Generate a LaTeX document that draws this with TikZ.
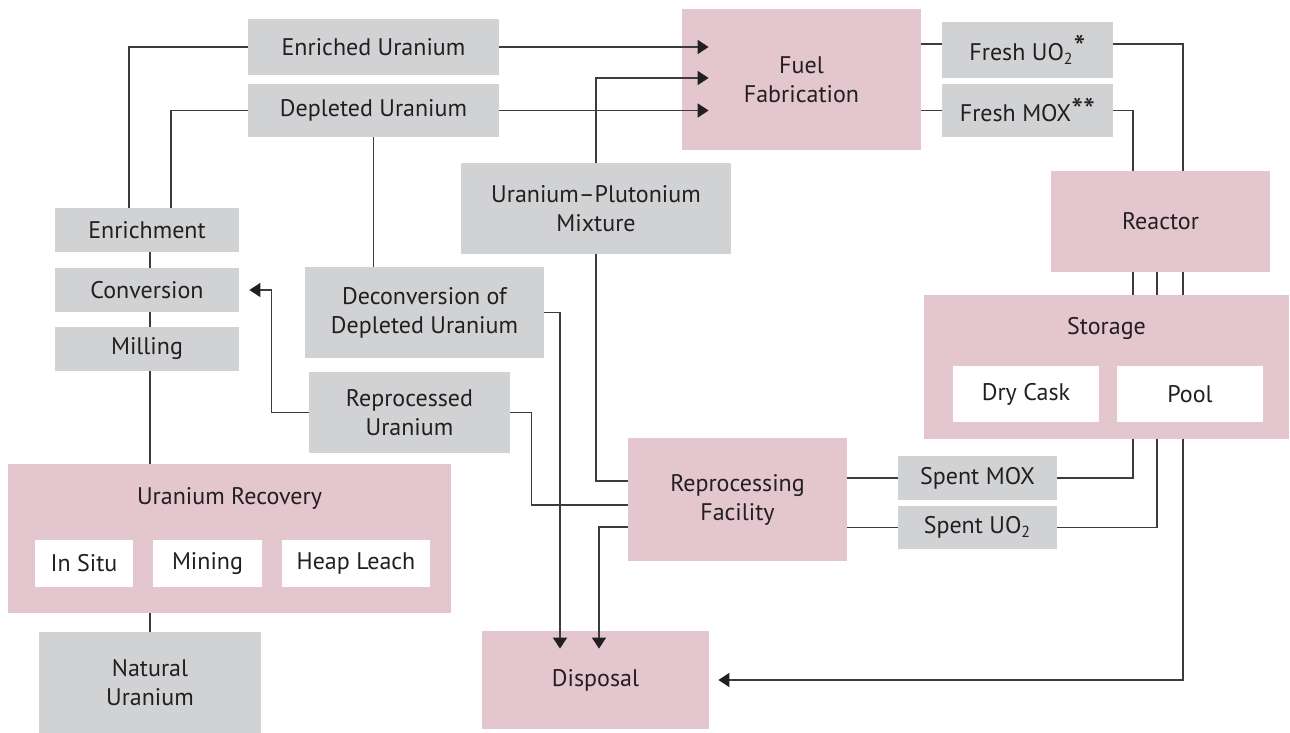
\documentclass[tikz,border=0pt]{standalone}
\usepackage{fontspec}
\setmainfont{PT Sans}
\usepackage{xcolor}
\usepackage{tikz}
\usetikzlibrary{
	arrows.meta,    % Per le punte a triangolo pieno
	calc            % Per spostare le coordinate dei collegamenti
}
\definecolor{boxpink}{RGB}{227,198,206}
\definecolor{boxgrey}{RGB}{209,210,212}
\definecolor{linegrey}{RGB}{60,60,60}
\definecolor{textdark}{RGB}{35,31,32}

% Asterisco delle note, piu' grande di quello del carattere
\newcommand{\notemark}[1]{\raisebox{#1}{\fontsize{17}{17}\selectfont*}}

\begin{document}
\begin{tikzpicture}[
	x=0.5pt, y=-0.5pt,
	>={Triangle[length=5.5pt,width=7pt,color=textdark]},
	every node/.style={font=\fontsize{12}{14.5}\selectfont, text=textdark},
	block/.style={rectangle, inner sep=0pt, align=center},
	grey_box/.style={block, fill=boxgrey},
	pink_box/.style={block, fill=boxpink},
	white_box/.style={block, fill=white},
	dims/.style 2 args={minimum width=#1*0.5pt, minimum height=#2*0.5pt},
	link/.style={line width=0.75pt, color=linegrey},
	flow/.style={->, line width=0.75pt, color=linegrey}
	]
	
	% --- Area del disegno ---
	\useasboundingbox (0,0) rectangle (1290,733);
	
	% ==================================================================
	% --- COLONNA SINISTRA: dalla miniera all'arricchimento ---
	% ==================================================================
	\node[grey_box, dims={184}{44}] (enrich) at (147,230) {Enrichment};
	\node[grey_box, dims={184}{44}] (conv) at (147,290) {Conversion};
	\node[grey_box, dims={184}{44}] (mill) at (147,349) {Milling};
	
	% Blocco con le tre tecniche di estrazione
	\node[pink_box, dims={443}{149}] (urec) at (229.5,538.5) {};
	\node (urec_lbl) at (229.5,498) {Uranium Recovery};
	\node[white_box, dims={98}{47}] (insitu) at (84,563.5) {In Situ};
	\node[white_box, dims={109}{47}] (mining) at (207.5,563.5) {Mining};
	\node[white_box, dims={148}{47}] (heap) at (356,563.5) {Heap Leach};
	
	\node[grey_box, dims={222}{101}] (natu) at (150,682.5) {Natural\\Uranium};
	
	% ==================================================================
	% --- CENTRO: fabbricazione, ritrattamento, smaltimento ---
	% ==================================================================
	\node[grey_box, dims={251}{56}] (enru) at (373.5,47) {Enriched Uranium};
	\node[grey_box, dims={251}{53}] (depu) at (373.5,110.5) {Depleted Uranium};
	\node[grey_box, dims={239}{91}] (decon) at (424.5,312.5) {Deconversion of\\Depleted Uranium};
	\node[grey_box, dims={201}{81}] (repu) at (409.5,412.5) {Reprocessed\\Uranium};
	\node[grey_box, dims={270}{91}] (upu) at (596,208.5) {Uranium--Plutonium\\Mixture};
	
	\node[pink_box, dims={239}{141}] (fuel) at (801.5,79.5) {Fuel\\Fabrication};
	\node[pink_box, dims={219}{123}] (repro) at (737.5,499.5) {Reprocessing\\Facility};
	\node[pink_box, dims={227}{98}] (disp) at (595.5,680) {Disposal};
	
	% ==================================================================
	% --- DESTRA: reattore e deposito ---
	% ==================================================================
	\node[grey_box, dims={171}{56}] (uo2f) at (1027.5,50) {Fresh UO\textsubscript{2}\notemark{0.5pt}};
	\node[grey_box, dims={171}{53}] (moxf) at (1027.5,110.5) {Fresh MOX\notemark{-0.5pt}\notemark{-0.5pt}};
	\node[pink_box, dims={219}{101}] (reactor) at (1160.5,221.5) {Reactor};
	
	\node[pink_box, dims={365}{144}] (stor) at (1106.5,367) {};
	\node (stor_lbl) at (1106.5,328) {Storage};
	\node[white_box, dims={146}{56}] (dry) at (1026,394) {Dry Cask};
	\node[white_box, dims={146}{56}] (pool) at (1190,394) {Pool};
	
	\node[grey_box, dims={159}{44}] (smox) at (977.5,478) {Spent MOX};
	\node[grey_box, dims={159}{43}] (suo2) at (977.5,527.5) {Spent UO\textsubscript{2}};
	
	% ==================================================================
	% --- COLLEGAMENTI ---
	% ==================================================================
	
	% Catena verticale a sinistra
	\draw[link] (enrich.south -| natu) -- (conv.north -| natu);
	\draw[link] (conv.south -| natu) -- (mill.north -| natu);
	\draw[link] (mill.south -| natu) -- (urec.north -| natu);
	\draw[link] (urec.south -| natu) -- (natu.north);
	
	% Uscite dell'arricchimento
	\draw[link] (enru.west) -| ($(enrich.north -| natu)+(-21,0)$);
	\draw[link] (depu.west) -| ($(enrich.north -| natu)+(21,0)$);
	\draw[flow] (enru.east) -- ($(fuel.west |- enru.east)+(27,0)$);
	\draw[flow] (depu.east) -- ($(fuel.west |- depu.east)+(27,0)$);
	\draw[link] (depu.south) -- (depu.south |- decon.north);
	\draw[flow] (upu.north) |- ($(fuel.west)+(27,-1.5)$);
	
	% Ritrattamento
	\draw[link] ($(repro.west)+(0,-18.5)$) -| (upu.south);
	\draw[link] ($(repro.west)+(0,5.5)$) -| ($(repu.east)+(21,0)$) -- (repu.east);
	\draw[flow] (repu.west) -| ($(conv.east)+(32,0)$) -- ($(conv.east)+(10,0)$);
	
	% Verso lo smaltimento
	\draw[flow] (decon.east) -| ($(disp.north)+(-35.5,18)$);
	\draw[flow] ($(repro.west)+(0,27.5)$) -| ($(disp.north)+(3.5,18)$);
	
	% Combustibile fresco al reattore
	\draw[link] ($(fuel.east |- uo2f.west)+(0,-6)$) -- ($(uo2f.west)+(0,-6)$);
	\draw[link] ($(uo2f.east)+(0,-6)$) -| ($(reactor.north)+(22.5,0)$);
	\draw[link] (fuel.east |- moxf.west) -- (moxf.west);
	\draw[link] (moxf.east) -| ($(reactor.north)+(-27.5,0)$);
	
	% Reattore -> deposito -> combustibile esaurito
	\foreach \dx in {-27.5,-3.5,22.5}
		\draw[link] ($(reactor.south)+(\dx,0)$) -- ($(reactor.south |- stor.north)+(\dx,0)$);
	\draw[link] (smox.east) -| ($(stor.south)+(26.5,0)$);
	\draw[link] (suo2.east) -| ($(stor.south)+(50.5,0)$);
	\draw[flow] ($(stor.south)+(76.5,0)$) |- ($(disp.east)+(9,0)$);
	\draw[link] (smox.west) -- (smox.west -| repro.east);
	\draw[link] (suo2.west) -- (suo2.west -| repro.east);
\end{tikzpicture}
\end{document}
